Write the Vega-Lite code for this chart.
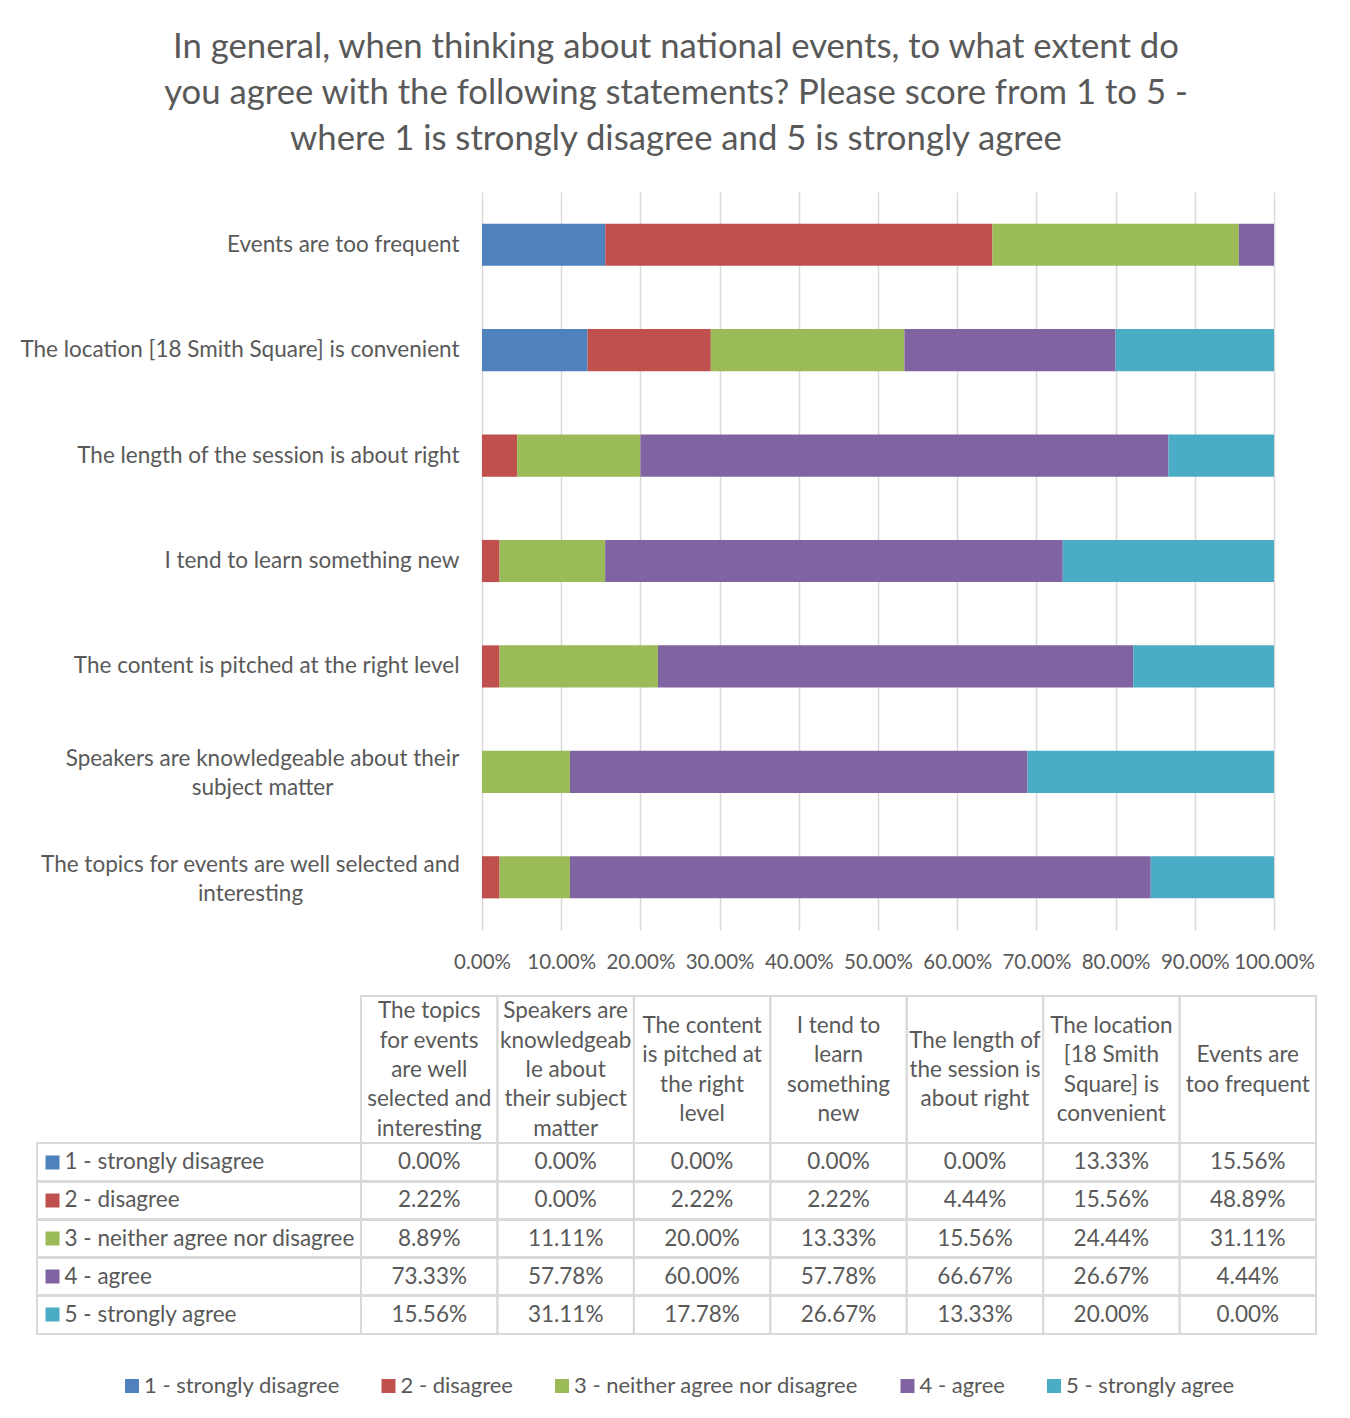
{
  "$schema": "https://vega.github.io/schema/vega-lite/v6.json",
  "background": "white",
  "padding": {"left": 19, "top": 30, "right": 0, "bottom": 0},
  "title": {
    "text": ["In general, when thinking about national events, to what extent do", "you agree with the following statements? Please score from 1 to 5 -", "where 1 is strongly disagree and 5 is strongly agree"],
    "fontSize": 34.7, "font": "Lato", "fontWeight": "normal", "color": "#595959", "lineHeight": 46, "anchor": "middle", "offset": 34, "dx": 7.5
  },
  "config": {"font": "Lato", "view": {"stroke": null}},
  "datasets": {
    "survey": [
      {"q": "The topics for events are well selected and interesting", "s": "1 - strongly disagree", "v": 0},
      {"q": "The topics for events are well selected and interesting", "s": "2 - disagree", "v": 0.0222},
      {"q": "The topics for events are well selected and interesting", "s": "3 - neither agree nor disagree", "v": 0.0889},
      {"q": "The topics for events are well selected and interesting", "s": "4 - agree", "v": 0.7333},
      {"q": "The topics for events are well selected and interesting", "s": "5 - strongly agree", "v": 0.1556},
      {"q": "Speakers are knowledgeable about their subject matter", "s": "1 - strongly disagree", "v": 0},
      {"q": "Speakers are knowledgeable about their subject matter", "s": "2 - disagree", "v": 0},
      {"q": "Speakers are knowledgeable about their subject matter", "s": "3 - neither agree nor disagree", "v": 0.1111},
      {"q": "Speakers are knowledgeable about their subject matter", "s": "4 - agree", "v": 0.5778},
      {"q": "Speakers are knowledgeable about their subject matter", "s": "5 - strongly agree", "v": 0.3111},
      {"q": "The content is pitched at the right level", "s": "1 - strongly disagree", "v": 0},
      {"q": "The content is pitched at the right level", "s": "2 - disagree", "v": 0.0222},
      {"q": "The content is pitched at the right level", "s": "3 - neither agree nor disagree", "v": 0.2},
      {"q": "The content is pitched at the right level", "s": "4 - agree", "v": 0.6},
      {"q": "The content is pitched at the right level", "s": "5 - strongly agree", "v": 0.1778},
      {"q": "I tend to learn something new", "s": "1 - strongly disagree", "v": 0},
      {"q": "I tend to learn something new", "s": "2 - disagree", "v": 0.0222},
      {"q": "I tend to learn something new", "s": "3 - neither agree nor disagree", "v": 0.1333},
      {"q": "I tend to learn something new", "s": "4 - agree", "v": 0.5778},
      {"q": "I tend to learn something new", "s": "5 - strongly agree", "v": 0.2667},
      {"q": "The length of the session is about right", "s": "1 - strongly disagree", "v": 0},
      {"q": "The length of the session is about right", "s": "2 - disagree", "v": 0.0444},
      {"q": "The length of the session is about right", "s": "3 - neither agree nor disagree", "v": 0.1556},
      {"q": "The length of the session is about right", "s": "4 - agree", "v": 0.6667},
      {"q": "The length of the session is about right", "s": "5 - strongly agree", "v": 0.1333},
      {"q": "The location [18 Smith Square] is convenient", "s": "1 - strongly disagree", "v": 0.1333},
      {"q": "The location [18 Smith Square] is convenient", "s": "2 - disagree", "v": 0.1556},
      {"q": "The location [18 Smith Square] is convenient", "s": "3 - neither agree nor disagree", "v": 0.2444},
      {"q": "The location [18 Smith Square] is convenient", "s": "4 - agree", "v": 0.2667},
      {"q": "The location [18 Smith Square] is convenient", "s": "5 - strongly agree", "v": 0.2},
      {"q": "Events are too frequent", "s": "1 - strongly disagree", "v": 0.1556},
      {"q": "Events are too frequent", "s": "2 - disagree", "v": 0.4889},
      {"q": "Events are too frequent", "s": "3 - neither agree nor disagree", "v": 0.3111},
      {"q": "Events are too frequent", "s": "4 - agree", "v": 0.0444},
      {"q": "Events are too frequent", "s": "5 - strongly agree", "v": 0}
    ],
    "headers": [
      {"q": "The topics for events are well selected and interesting", "h": "The topics\nfor events\nare well\nselected and\ninteresting"},
      {"q": "Speakers are knowledgeable about their subject matter", "h": "Speakers are\nknowledgeab\nle about\ntheir subject\nmatter"},
      {"q": "The content is pitched at the right level", "h": "The content\nis pitched at\nthe right\nlevel"},
      {"q": "I tend to learn something new", "h": "I tend to\nlearn\nsomething\nnew"},
      {"q": "The length of the session is about right", "h": "The length of\nthe session is\nabout right"},
      {"q": "The location [18 Smith Square] is convenient", "h": "The location\n[18 Smith\nSquare] is\nconvenient"},
      {"q": "Events are too frequent", "h": "Events are\ntoo frequent"}
    ]
  },
  "spacing": 66,
  "bounds": "flush",
  "vconcat": [
    {
      "width": 1279,
      "height": 738,
      "data": {"name": "survey"},
      "mark": {"type": "bar"},
      "encoding": {
        "y": {
          "field": "q", "type": "nominal",
          "sort": ["Events are too frequent", "The location [18 Smith Square] is convenient", "The length of the session is about right", "I tend to learn something new", "The content is pitched at the right level", "Speakers are knowledgeable about their subject matter", "The topics for events are well selected and interesting"],
          "scale": {"paddingInner": 0.6, "paddingOuter": 0.3},
          "axis": {
            "title": null, "domain": false, "ticks": false, "grid": false,
            "labelFontSize": 22.5, "labelColor": "#595959", "labelLimit": 0, "labelLineHeight": 29,
            "labelExpr": "datum.value == 'Speakers are knowledgeable about their subject matter' ? ['Speakers are knowledgeable about their', 'subject matter'] : datum.value == 'The topics for events are well selected and interesting' ? ['The topics for events are well selected and', 'interesting'] : datum.label",
            "labelAlign": {"condition": {"test": "indexof(datum.value, 'Speakers') == 0 || indexof(datum.value, 'The topics') == 0", "value": "center"}, "value": "right"},
            "labelOffset": {"condition": {"test": "indexof(datum.value, 'Speakers') == 0 || indexof(datum.value, 'The topics') == 0", "value": -12.5}, "value": 0},
            "labelPadding": {"condition": [{"test": "indexof(datum.value, 'Speakers') == 0", "value": -225}, {"test": "indexof(datum.value, 'The topics') == 0", "value": -213}], "value": -422}
          }
        },
        "x": {
          "field": "v", "type": "quantitative", "stack": "zero",
          "scale": {"domain": [0, 1], "range": [445, 1237], "nice": false},
          "axis": {
            "title": null, "format": ".2%", "values": [0, 0.1, 0.2, 0.3, 0.4, 0.5, 0.6, 0.7, 0.8, 0.9, 1],
            "domain": false, "ticks": false, "grid": true, "gridColor": "#d9d9d9", "gridWidth": 1.5,
            "labelFontSize": 20.5, "labelColor": "#595959", "labelOverlap": false, "labelFlush": false, "labelPadding": 22
          }
        },
        "color": {
          "field": "s", "type": "nominal",
          "scale": {"domain": ["1 - strongly disagree", "2 - disagree", "3 - neither agree nor disagree", "4 - agree", "5 - strongly agree"], "range": ["#4F81BD", "#C0504D", "#9BBB59", "#8064A2", "#4BACC6"]},
          "legend": {
            "orient": "none", "legendX": 84, "legendY": 1183, "direction": "horizontal", "title": null,
            "symbolType": "square", "symbolSize": 196, "symbolStrokeWidth": 0,
            "labelFontSize": 22, "labelColor": "#595959", "columnPadding": 37.5, "labelOffset": 1, "labelLimit": 0, "padding": 0
          }
        }
      }
    },
    {
      "spacing": 0,
      "bounds": "flush",
      "vconcat": [
        {
          "width": 1279,
          "height": 147,
          "data": {"name": "headers"},
          "mark": {"type": "rect", "fill": "transparent", "stroke": "#d9d9d9", "strokeWidth": 2},
          "encoding": {
            "x": {
              "field": "h", "type": "nominal",
              "sort": ["The topics\nfor events\nare well\nselected and\ninteresting", "Speakers are\nknowledgeab\nle about\ntheir subject\nmatter", "The content\nis pitched at\nthe right\nlevel", "I tend to\nlearn\nsomething\nnew", "The length of\nthe session is\nabout right", "The location\n[18 Smith\nSquare] is\nconvenient", "Events are\ntoo frequent"],
              "scale": {"range": [324, 1279], "paddingInner": 0, "paddingOuter": 0},
              "axis": {
                "orient": "top", "title": null, "domain": false, "ticks": false, "grid": false, "zindex": 1,
                "labelAngle": 0, "labelAlign": "center", "labelBaseline": "middle", "labelOverlap": false,
                "labelFontSize": 22.5, "labelColor": "#595959", "labelLimit": 0, "labelLineHeight": 29.4,
                "labelExpr": "split(datum.value, '\\n')",
                "labelPadding": {"condition": [
                  {"test": "length(split(datum.value, '\\n')) == 4", "value": -29.4},
                  {"test": "length(split(datum.value, '\\n')) == 3", "value": -44.1},
                  {"test": "length(split(datum.value, '\\n')) == 2", "value": -58.8}
                ], "value": -14.7}
              }
            }
          }
        },
        {
          "width": 1279,
          "height": 191,
          "data": {"name": "survey"},
          "encoding": {
            "y": {
              "field": "s", "type": "nominal",
              "scale": {"paddingInner": 0, "paddingOuter": 0},
              "axis": {
                "title": null, "domain": false, "grid": false, "ticks": true, "tickSize": 14, "tickWidth": 14, "offset": -22, "zindex": 1,
                "tickColor": {"condition": [
                  {"test": "datum.value == '1 - strongly disagree'", "value": "#4F81BD"},
                  {"test": "datum.value == '2 - disagree'", "value": "#C0504D"},
                  {"test": "datum.value == '3 - neither agree nor disagree'", "value": "#9BBB59"},
                  {"test": "datum.value == '4 - agree'", "value": "#8064A2"}
                ], "value": "#4BACC6"},
                "labelAlign": "left", "labelPadding": -19, "labelFontSize": 22.5, "labelColor": "#595959", "labelLimit": 0
              }
            }
          },
          "layer": [
            {"mark": {"type": "rect", "fill": "transparent", "stroke": "#d9d9d9", "strokeWidth": 2}},
            {
              "mark": {"type": "rect", "fill": "transparent", "stroke": "#d9d9d9", "strokeWidth": 2},
              "encoding": {
                "x": {
                  "field": "q", "type": "nominal",
                  "sort": ["The topics for events are well selected and interesting", "Speakers are knowledgeable about their subject matter", "The content is pitched at the right level", "I tend to learn something new", "The length of the session is about right", "The location [18 Smith Square] is convenient", "Events are too frequent"],
                  "scale": {"range": [324, 1279], "paddingInner": 0, "paddingOuter": 0},
                  "axis": null
                }
              }
            },
            {
              "mark": {"type": "text", "fontSize": 22.5, "color": "#595959", "baseline": "middle", "align": "center"},
              "encoding": {
                "x": {
                  "field": "q", "type": "nominal",
                  "sort": ["The topics for events are well selected and interesting", "Speakers are knowledgeable about their subject matter", "The content is pitched at the right level", "I tend to learn something new", "The length of the session is about right", "The location [18 Smith Square] is convenient", "Events are too frequent"],
                  "scale": {"range": [324, 1279], "paddingInner": 0, "paddingOuter": 0},
                  "axis": null
                },
                "text": {"field": "v", "type": "quantitative", "format": ".2%"}
              }
            }
          ]
        }
      ]
    }
  ]
}
